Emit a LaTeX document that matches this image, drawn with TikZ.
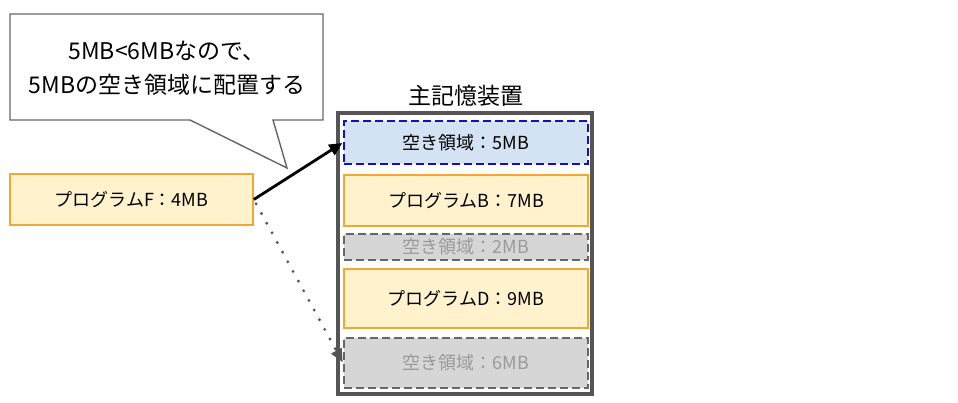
\documentclass[tikz,border=0pt]{standalone}
\usepackage{fontspec}
\setmainfont{Noto Sans CJK JP}
\usetikzlibrary{arrows.meta,calc}
\definecolor{orfill}{HTML}{FFF2CC}
\definecolor{ordraw}{HTML}{F0A830}
\definecolor{blfill}{HTML}{D4E3F4}
\definecolor{bldraw}{HTML}{1010C8}
\definecolor{grfill}{HTML}{D6D6D6}
\definecolor{grdraw}{HTML}{666666}
\definecolor{grtext}{HTML}{9A9A9A}
\definecolor{memdraw}{HTML}{555555}
\definecolor{calldraw}{HTML}{666666}
\tikzset{
  boxbase/.style={rectangle, inner sep=0pt, minimum width=244pt, font=\fontsize{18pt}{20pt}\selectfont},
  progbox/.style={boxbase, fill=orfill, draw=ordraw, line width=1.6pt},
  freebox/.style={boxbase, fill=blfill, draw=bldraw, line width=1.8pt, dash pattern=on 8pt off 4pt},
  graybox/.style={boxbase, fill=grfill, draw=grdraw, line width=1.8pt, dash pattern=on 8pt off 4pt, text=grtext},
  calltext/.style={font=\fontsize{23pt}{26pt}\selectfont, inner sep=0pt},
}
\begin{document}
\begin{tikzpicture}[x=1pt,y=-1pt]
\useasboundingbox (0,0) rectangle (958,403);
% callout
\draw[calldraw, line width=1.4pt, fill=white]
  (10,14) -- (323,14) -- (323,120) -- (273,120) -- (287,168) -- (190,120) -- (10,120) -- cycle;
\node[calltext] (c1) at (167,51) {5MB<6MBなので、};
\node[calltext] (c2) at (167,85) {5MBの空き領域に配置する};
% program F
\node[progbox, minimum width=243pt, minimum height=51pt] (f) at (131.5,199.5) {プログラムF：4MB};
% memory
\node[draw=memdraw, line width=3.2pt, minimum width=254pt, minimum height=281pt, inner sep=0pt] (mem) at (465,253.5) {};
\node[font=\fontsize{23pt}{26pt}\selectfont, inner sep=0pt] (title) at (466,96) {主記憶装置};
\node[freebox, minimum height=43pt] (m1) at (466,142.5) {空き領域：5MB};
\node[progbox, minimum height=51pt] (m2) at (466,200.5) {プログラムB：7MB};
\node[graybox, minimum height=26pt] (m3) at (466,247) {空き領域：2MB};
\node[progbox, minimum height=59pt] (m4) at (466,298.5) {プログラムD：9MB};
\node[graybox, minimum height=50pt] (m5) at (466,363) {空き領域：6MB};
% arrows
\draw[black, line width=2.8pt, -{Triangle[length=13pt,width=12pt]}, shorten >=1pt] (f.east) -- (m1.west);
\coordinate (dtip) at ($(m5.west)!15pt!(f.east)$);
\draw[memdraw, line width=3.2pt, line cap=round, dash pattern=on 0pt off 11pt, shorten <=5pt] (f.east) -- (dtip);
\draw[memdraw, line width=1pt, -{Triangle[length=13pt,width=12pt]}, shorten >=1pt] (dtip) -- (m5.west);
\end{tikzpicture}
\end{document}
